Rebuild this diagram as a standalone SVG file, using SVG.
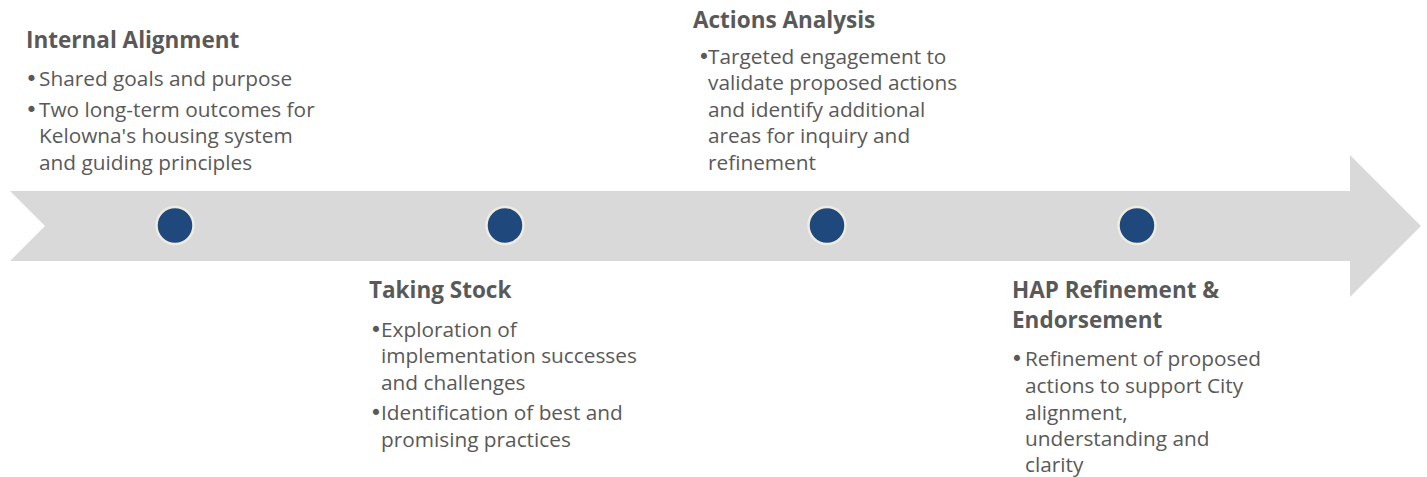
<svg xmlns="http://www.w3.org/2000/svg" width="1427" height="477" viewBox="0 0 1427 477">
<style>
.t{font-family:"Open Sans","Noto Sans",sans-serif;font-weight:700;font-size:22.5px;fill:#595959}
.b{font-family:"Open Sans","Noto Sans",sans-serif;font-size:20.8px;fill:#595959}
.u{font-family:"DejaVu Sans",sans-serif;font-size:21px;fill:#595959;text-anchor:middle}
.dot{fill:#1F497D;stroke:#EEECE1;stroke-width:2.5}
</style>
<rect width="1427" height="477" fill="#FFFFFF"/>
<g id="connectors">
<path d="M10,191 L1350,191 L1350,155 L1421,226 L1350,297 L1350,261 L10,261 L45,226 Z" fill="#D9D9D9"/>
</g>
<g id="internal-alignment">
<circle class="dot" cx="175" cy="225.5" r="18.5"/>
<text class="t" x="26" y="48.3">Internal Alignment</text>
<text class="u" x="31.5" y="86">•</text>
<text class="b" x="39" y="86">Shared goals and purpose</text>
<text class="u" x="31.5" y="116.5">•</text>
<text class="b"><tspan x="39" y="116.5">Two long-term outcomes for</tspan><tspan x="39" y="143.3">Kelowna's housing system</tspan><tspan x="39" y="170">and guiding principles</tspan></text>
</g>
<g id="taking-stock">
<circle class="dot" cx="505" cy="225.5" r="18.5"/>
<text class="t" x="369" y="298.3">Taking Stock</text>
<text class="u" x="376" y="336.7">•</text>
<text class="b"><tspan x="381" y="336.7">Exploration of</tspan><tspan x="381" y="363.3">implementation successes</tspan><tspan x="381" y="389.8">and challenges</tspan></text>
<text class="u" x="376" y="420">•</text>
<text class="b"><tspan x="381" y="420">Identification of best and</tspan><tspan x="381" y="446.5">promising practices</tspan></text>
</g>
<g id="actions-analysis">
<circle class="dot" cx="827" cy="225.5" r="18.5"/>
<text class="t" x="693" y="28.3">Actions Analysis</text>
<text class="u" x="704" y="63.5">•</text>
<text class="b"><tspan x="708" y="63.5">Targeted engagement to</tspan><tspan x="708" y="90">validate proposed actions</tspan><tspan x="708" y="116.5">and identify additional</tspan><tspan x="708" y="143">areas for inquiry and</tspan><tspan x="708" y="169.5">refinement</tspan></text>
</g>
<g id="hap-refinement">
<circle class="dot" cx="1137" cy="225.5" r="18.5"/>
<text class="t"><tspan x="1012" y="298.3">HAP Refinement &amp;</tspan><tspan x="1012" y="328.3">Endorsement</tspan></text>
<text class="u" x="1017" y="366">•</text>
<text class="b"><tspan x="1025" y="366">Refinement of proposed</tspan><tspan x="1025" y="393">actions to support City</tspan><tspan x="1025" y="419.5">alignment,</tspan><tspan x="1025" y="446">understanding and</tspan><tspan x="1025" y="472">clarity</tspan></text>
</g>
</svg>
